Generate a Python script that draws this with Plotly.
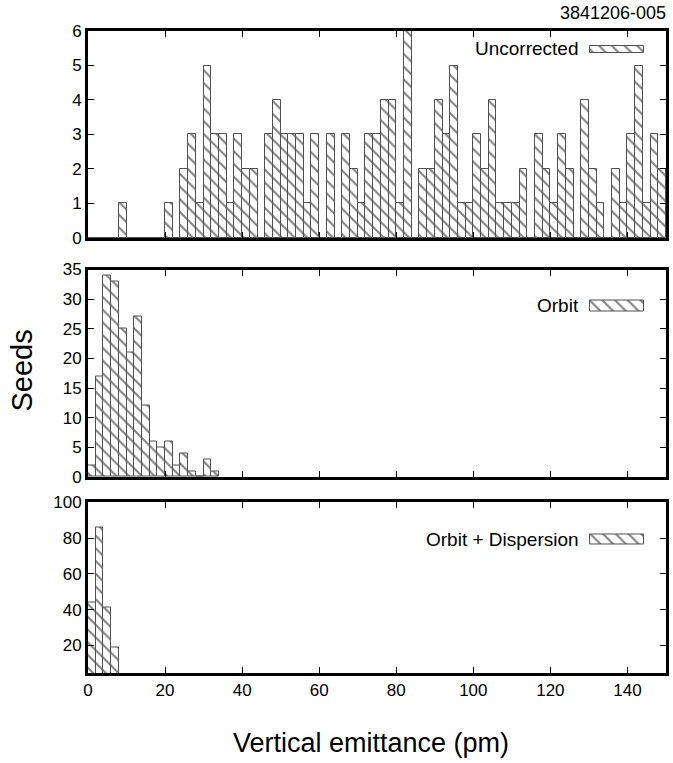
import plotly.graph_objects as go

# ---------------- data ----------------
bin_width = 2
uncorrected = [0,0,0,0,1,0,0,0,0,0,
               1,0,2,3,1,5,3,3,1,3,
               2,2,0,3,4,3,3,3,1,3,
               0,3,0,3,2,1,3,3,4,4,
               1,6,0,2,2,4,3,5,1,1,
               3,2,4,1,1,1,2,0,3,2,
               1,3,2,0,4,2,1,0,2,1,
               3,5,1,3,2]
orbit = [2,17,34,33,25,21,27,12,6,5,6,2,4,1,0,3,1]
orbit_disp = [44,86,41,19]
labels = ["Uncorrected", "Orbit", "Orbit + Dispersion"]
x_ticks = [0, 20, 40, 60, 80, 100, 120, 140]
tag = "3841206-005"

def centers(n):
    return [bin_width * i + bin_width / 2 for i in range(n)]

FONT = "Liberation Sans, Arial, Helvetica, sans-serif"
pattern = dict(shape="\\", fgcolor="black", bgcolor="white", size=9, solidity=0.22)
bar_line = dict(color="#505050", width=1)

fig = go.Figure()

panels = [
    (uncorrected, "x3", "y3"),
    (orbit, "x2", "y2"),
    (orbit_disp, "x", "y"),
]
for vals, xa, ya in panels:
    fig.add_trace(go.Bar(
        x=centers(len(vals)), y=vals, width=bin_width,
        xaxis=xa, yaxis=ya,
        marker=dict(color="white", pattern=pattern, line=bar_line),
        showlegend=False, hoverinfo="x+y",
    ))

# legend swatches (on invisible overlay axes, unit range)
sw = [("x6", "y6", 0.892, 0.929), ("x5", "y5", 0.800, 0.850), ("x4", "y4", 0.751, 0.8135)]
for xa, ya, y0, y1 in sw:
    fig.add_trace(go.Bar(
        orientation="h", base=[0.8687], x=[0.9627 - 0.8687], y=[(y0 + y1) / 2],
        width=y1 - y0, xaxis=xa, yaxis=ya,
        marker=dict(color="white", pattern=pattern, line=bar_line),
        showlegend=False, hoverinfo="skip",
    ))

frame = dict(showline=True, linewidth=3, linecolor="black", mirror="ticks",
             ticks="inside", ticklen=6, tickwidth=1, tickcolor="black",
             showgrid=False, zeroline=False,
             tickfont=dict(family=FONT, size=17, color="black"))

dom_bot = [0.0, 0.2656]
dom_mid = [0.3053, 0.6285]
dom_top = [0.6776, 1.0]

fig.update_layout(
    width=673, height=763,
    margin=dict(l=88, r=4, t=31, b=90),
    paper_bgcolor="white", plot_bgcolor="white",
    bargap=0,
    font=dict(family=FONT, color="black"),
    xaxis=dict(frame, domain=[0, 1], anchor="y", range=[0, 150], tickvals=x_ticks),
    xaxis2=dict(frame, domain=[0, 1], anchor="y2", range=[0, 150], tickvals=x_ticks,
                showticklabels=False),
    xaxis3=dict(frame, domain=[0, 1], anchor="y3", range=[0, 150], tickvals=x_ticks,
                showticklabels=False),
    yaxis=dict(frame, domain=dom_bot, anchor="x", range=[4.6, 100],
               tickvals=[20, 40, 60, 80, 100]),
    yaxis2=dict(frame, domain=dom_mid, anchor="x2", range=[0, 35], dtick=5),
    yaxis3=dict(frame, domain=dom_top, anchor="x3", range=[0, 6], dtick=1),
    xaxis4=dict(overlaying="x", range=[0, 1], visible=False, anchor="y4"),
    yaxis4=dict(overlaying="y", range=[0, 1], visible=False, anchor="x4"),
    xaxis5=dict(overlaying="x2", range=[0, 1], visible=False, anchor="y5"),
    yaxis5=dict(overlaying="y2", range=[0, 1], visible=False, anchor="x5"),
    xaxis6=dict(overlaying="x3", range=[0, 1], visible=False, anchor="y6"),
    yaxis6=dict(overlaying="y3", range=[0, 1], visible=False, anchor="x6"),
)

ann = []
for text, y in zip(labels, [0.972, 0.5717, 0.2072]):
    ann.append(dict(text=text, x=0.8537, y=y, xref="paper", yref="paper",
                    xanchor="right", yanchor="middle", showarrow=False,
                    font=dict(family=FONT, size=19, color="black")))
ann.append(dict(text=tag, x=1.0034, y=1.028, xref="paper", yref="paper",
                xanchor="right", yanchor="middle", showarrow=False,
                font=dict(family=FONT, size=18, color="black")))
ann.append(dict(text="Vertical emittance (pm)", x=0.489, y=-0.109, xref="paper",
                yref="paper", xanchor="center", yanchor="middle", showarrow=False,
                font=dict(family=FONT, size=27, color="black")))
ann.append(dict(text="Seeds", x=-0.1150, y=0.4704, xref="paper", yref="paper",
                xanchor="center", yanchor="middle", showarrow=False, textangle=-90,
                font=dict(family=FONT, size=29, color="black")))
fig.update_layout(annotations=ann)

fig.write_html(
    "out.html",
    config={"displayModeBar": False},
    post_script="document.body.style.margin='0';document.body.style.overflow='hidden';",
)
